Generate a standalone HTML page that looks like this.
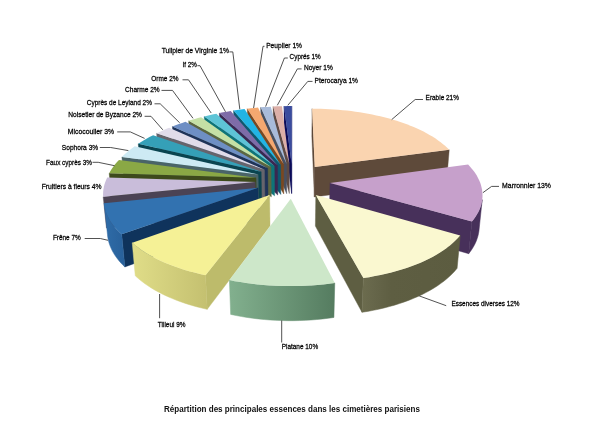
<!DOCTYPE html>
<html><head><meta charset="utf-8"><title>R&#233;partition des principales essences</title>
<style>
html,body{margin:0;padding:0;background:#fff}
body{width:615px;height:432px;overflow:hidden}
svg{display:block}
text{font-family:"Liberation Sans","DejaVu Sans",sans-serif;font-size:7.8px;fill:#000;stroke:#000;stroke-width:0.26px}
.title{font-weight:bold;font-size:8.6px;fill:#111;stroke:none}
</style></head><body>
<svg width="615" height="432" viewBox="0 0 615 432">
<rect width="615" height="432" fill="#fff"/>
<g id="pie">
<defs><linearGradient id="g1_15" gradientUnits="userSpaceOnUse" x1="468.7" y1="0" x2="482.2" y2="0"><stop offset="0" stop-color="#47305A"/><stop offset="1" stop-color="#47305A"/></linearGradient>
<linearGradient id="g2_0" gradientUnits="userSpaceOnUse" x1="362.0" y1="0" x2="460.2" y2="0"><stop offset="0" stop-color="#6C6C4E"/><stop offset="0.12" stop-color="#66664A"/><stop offset="0.3" stop-color="#5E5E42"/><stop offset="1" stop-color="#5C5C40"/></linearGradient>
<linearGradient id="g3_0" gradientUnits="userSpaceOnUse" x1="229.4" y1="0" x2="334.8" y2="0"><stop offset="0" stop-color="#82B08E"/><stop offset="1" stop-color="#557C60"/></linearGradient>
<linearGradient id="g4_0" gradientUnits="userSpaceOnUse" x1="132.2" y1="0" x2="207.2" y2="0"><stop offset="0" stop-color="#E0DD88"/><stop offset="1" stop-color="#C4C070"/></linearGradient>
<linearGradient id="g5_0" gradientUnits="userSpaceOnUse" x1="104.2" y1="0" x2="124.8" y2="0"><stop offset="0" stop-color="#2F6CA8"/><stop offset="1" stop-color="#28609A"/></linearGradient></defs>
<polygon points="291.61,163.72 284.02,106.17 284.14,133.33 291.63,193.50" fill="#0A0A58" stroke="#0A0A58" stroke-width="0.4"/>
<polygon points="291.61,163.72 291.74,106.08 291.75,133.24 291.63,193.50" fill="#0A0A58" stroke="#0A0A58" stroke-width="0.4"/>
<polygon points="291.61,163.72 284.02,106.17 287.88,106.10 291.74,106.08" fill="#3A4C9E"/>
<polygon points="289.27,163.79 273.12,106.56 273.41,133.74 289.32,193.57" fill="#5E4A44" stroke="#5E4A44" stroke-width="0.4"/>
<polygon points="289.27,163.79 273.12,106.56 277.53,106.36 281.95,106.22" fill="#DCAFA8"/>
<polygon points="286.59,163.95 260.66,107.37 261.12,134.59 286.69,193.74" fill="#485060" stroke="#485060" stroke-width="0.4"/>
<polygon points="286.59,163.95 260.66,107.37 264.01,107.11 267.38,106.88 270.76,106.68" fill="#A8BBDA"/>
<polygon points="283.66,164.23 247.30,108.69 247.96,135.98 283.80,194.03" fill="#7A4820" stroke="#7A4820" stroke-width="0.4"/>
<polygon points="283.66,164.23 247.30,108.69 250.87,108.29 254.45,107.92 258.05,107.59" fill="#F4A870"/>
<polygon points="280.61,164.65 233.52,110.57 234.38,137.94 280.81,194.47" fill="#0E5870" stroke="#0E5870" stroke-width="0.4"/>
<polygon points="280.61,164.65 233.52,110.57 237.18,110.01 240.87,109.50 244.57,109.02" fill="#22B4E4"/>
<polygon points="277.50,165.22 219.30,113.09 220.37,140.58 277.75,195.06" fill="#3A2850" stroke="#3A2850" stroke-width="0.4"/>
<polygon points="277.50,165.22 219.30,113.09 223.07,112.35 226.87,111.66 230.71,111.02" fill="#7E6CA8"/>
<polygon points="274.30,165.97 204.23,116.46 205.53,144.11 274.60,195.85" fill="#0E7478" stroke="#0E7478" stroke-width="0.4"/>
<polygon points="274.30,165.97 204.23,116.46 208.22,115.48 212.26,114.56 216.35,113.69" fill="#5EC4D6"/>
<polygon points="271.01,166.95 188.66,120.82 190.21,148.67 271.36,196.87" fill="#5C6640" stroke="#5C6640" stroke-width="0.4"/>
<polygon points="271.01,166.95 188.66,120.82 191.72,119.87 194.83,118.96 197.97,118.09 201.15,117.25" fill="#C5E0A5"/>
<polygon points="314.72,167.05 312.12,108.67 311.84,135.96 314.36,196.98" fill="#5E4A3A" stroke="#5E4A3A" stroke-width="0.4"/>
<polygon points="314.72,167.05 449.23,149.81 446.76,178.97 314.36,196.98" fill="#5E4A3A" stroke="#5E4A3A" stroke-width="0.4"/>
<polygon points="314.72,167.05 312.12,108.67 316.50,108.70 320.89,108.79 325.27,108.94 329.64,109.15 334.00,109.42 338.35,109.75 342.68,110.14 346.99,110.59 351.28,111.10 355.54,111.67 359.76,112.29 363.96,112.98 368.11,113.72 372.23,114.52 376.30,115.38 380.32,116.30 384.29,117.27 388.21,118.30 392.07,119.39 395.86,120.53 399.59,121.73 403.25,122.98 406.84,124.29 410.35,125.65 413.77,127.06 417.12,128.53 420.37,130.04 423.53,131.61 426.60,133.22 429.57,134.89 432.43,136.60 435.18,138.36 437.83,140.16 440.35,142.01 442.76,143.90 445.05,145.83 447.20,147.80 449.23,149.81" fill="#FAD4B0"/>
<polygon points="267.68,168.20 172.38,126.50 174.19,154.61 268.09,198.17" fill="#1E3358" stroke="#1E3358" stroke-width="0.4"/>
<polygon points="267.68,168.20 172.38,126.50 175.56,125.27 178.80,124.08 182.10,122.94 185.46,121.84" fill="#6E8FC4"/>
<polygon points="264.46,169.72 156.62,133.37 158.69,161.80 264.92,199.76" fill="#66646C" stroke="#66646C" stroke-width="0.4"/>
<polygon points="264.46,169.72 156.62,133.37 159.64,131.90 162.74,130.48 165.92,129.11 169.17,127.78" fill="#E0DCEA"/>
<polygon points="261.16,171.78 138.27,143.82 140.68,172.73 261.68,201.91" fill="#0A4450" stroke="#0A4450" stroke-width="0.4"/>
<polygon points="261.16,171.78 138.27,143.82 141.03,141.99 143.91,140.20 146.88,138.46 149.97,136.77 153.15,135.14" fill="#35A0B8"/>
<polygon points="258.12,174.50 121.89,156.96 124.62,186.44 258.69,204.74" fill="#4A6468" stroke="#4A6468" stroke-width="0.4"/>
<polygon points="258.12,174.50 121.89,156.96 123.77,155.09 125.77,153.25 127.87,151.45 130.07,149.68 132.37,147.95 134.77,146.25" fill="#CDEAF4"/>
<polygon points="256.00,177.73 109.20,173.34 112.23,203.54 256.62,208.11" fill="#3D4A1C" stroke="#3D4A1C" stroke-width="0.4"/>
<polygon points="256.00,177.73 109.20,173.34 110.45,171.04 111.86,168.76 113.43,166.51 115.14,164.29 117.00,162.11 118.99,159.97" fill="#8AA845"/>
<polygon points="255.28,181.89 103.17,196.86 106.45,228.04 255.91,212.44" fill="#4B4354" stroke="#4B4354" stroke-width="0.4"/>
<polygon points="255.28,181.89 103.17,196.86 103.07,194.38 103.15,191.91 103.41,189.45 103.85,187.01 104.45,184.58 105.23,182.17 106.18,179.79 107.28,177.43" fill="#C9BDDA"/>
<polygon points="329.99,182.91 471.90,221.54 468.65,253.72 329.36,213.51" fill="#47305A" stroke="#47305A" stroke-width="0.4"/>
<polygon points="482.23,199.62 481.83,202.08 481.25,204.55 480.47,207.01 479.52,209.47 478.37,211.91 477.04,214.35 475.51,216.77 473.80,219.17 471.90,221.54 468.65,253.72 470.54,251.25 472.23,248.75 473.74,246.24 475.07,243.71 476.21,241.16 477.16,238.60 477.94,236.04 478.53,233.48 478.94,230.91" fill="url(#g1_15)" stroke="url(#g1_15)" stroke-width="0.5" stroke-linejoin="round"/>
<polygon points="329.99,182.91 468.11,164.55 470.12,166.70 471.99,168.88 473.71,171.09 475.30,173.34 476.74,175.62 478.02,177.92 479.15,180.26 480.13,182.62 480.94,185.00 481.58,187.40 482.06,189.82 482.37,192.25 482.50,194.70 482.46,197.15 482.23,199.62 481.83,202.08 481.25,204.55 480.47,207.01 479.52,209.47 478.37,211.91 477.04,214.35 475.51,216.77 473.80,219.17 471.90,221.54" fill="#C6A0CB"/>
<polygon points="258.06,187.87 121.68,234.28 124.84,266.95 258.65,218.68" fill="#0F335C" stroke="#0F335C" stroke-width="0.4"/>
<polygon points="121.68,234.28 119.25,232.01 117.00,229.71 114.94,227.38 113.05,225.02 111.35,222.64 109.83,220.25 108.49,217.83 107.33,215.41 106.35,212.97 105.55,210.53 104.92,208.09 104.47,205.65 104.19,203.20 107.49,234.65 107.78,237.19 108.24,239.73 108.87,242.27 109.67,244.81 110.65,247.34 111.80,249.86 113.13,252.37 114.64,254.86 116.33,257.34 118.19,259.78 120.23,262.20 122.45,264.60 124.84,266.95" fill="url(#g5_0)" stroke="url(#g5_0)" stroke-width="0.5" stroke-linejoin="round"/>
<polygon points="258.06,187.87 121.68,234.28 119.25,232.01 117.00,229.71 114.94,227.38 113.05,225.02 111.35,222.64 109.83,220.25 108.49,217.83 107.33,215.41 106.35,212.97 105.55,210.53 104.92,208.09 104.47,205.65 104.19,203.20" fill="#3272B0"/>
<polygon points="269.63,195.02 205.51,275.13 207.24,309.32 270.03,226.12" fill="#BDBB6B" stroke="#BDBB6B" stroke-width="0.4"/>
<polygon points="205.51,275.13 199.97,273.91 194.54,272.59 189.24,271.17 184.07,269.66 179.05,268.05 174.18,266.35 169.47,264.56 164.93,262.69 160.55,260.74 156.35,258.71 152.33,256.62 148.50,254.45 144.86,252.23 141.41,249.94 138.15,247.60 135.10,245.21 132.25,242.78 135.26,275.78 138.07,278.30 141.08,280.78 144.28,283.21 147.68,285.58 151.26,287.89 155.03,290.13 158.98,292.31 163.11,294.41 167.41,296.43 171.87,298.37 176.50,300.22 181.28,301.98 186.21,303.65 191.28,305.22 196.48,306.69 201.80,308.06 207.24,309.32" fill="url(#g4_0)" stroke="url(#g4_0)" stroke-width="0.5" stroke-linejoin="round"/>
<polygon points="269.63,195.02 205.51,275.13 199.97,273.91 194.54,272.59 189.24,271.17 184.07,269.66 179.05,268.05 174.18,266.35 169.47,264.56 164.93,262.69 160.55,260.74 156.35,258.71 152.33,256.62 148.50,254.45 144.86,252.23 141.41,249.94 138.15,247.60 135.10,245.21 132.25,242.78" fill="#F5F196"/>
<polygon points="315.78,195.02 363.38,278.02 361.97,312.31 315.38,226.12" fill="#5E5E42" stroke="#5E5E42" stroke-width="0.4"/>
<polygon points="460.21,235.58 457.97,238.10 455.53,240.58 452.89,243.02 450.05,245.42 447.02,247.78 443.79,250.09 440.37,252.35 436.76,254.54 432.96,256.68 428.98,258.75 424.83,260.75 420.50,262.68 416.01,264.53 411.35,266.30 406.54,267.99 401.58,269.58 396.49,271.09 391.25,272.50 385.89,273.81 380.42,275.02 374.84,276.12 369.15,277.13 363.38,278.02 361.97,312.31 367.63,311.39 373.20,310.35 378.68,309.21 384.05,307.95 389.31,306.59 394.44,305.13 399.44,303.58 404.31,301.92 409.03,300.18 413.60,298.34 418.02,296.42 422.27,294.43 426.35,292.35 430.26,290.20 434.00,287.99 437.55,285.71 440.92,283.37 444.10,280.97 447.09,278.52 449.88,276.03 452.49,273.49 454.89,270.92 457.10,268.31" fill="url(#g2_0)" stroke="url(#g2_0)" stroke-width="0.5" stroke-linejoin="round"/>
<polygon points="315.78,195.02 460.21,235.58 457.97,238.10 455.53,240.58 452.89,243.02 450.05,245.42 447.02,247.78 443.79,250.09 440.37,252.35 436.76,254.54 432.96,256.68 428.98,258.75 424.83,260.75 420.50,262.68 416.01,264.53 411.35,266.30 406.54,267.99 401.58,269.58 396.49,271.09 391.25,272.50 385.89,273.81 380.42,275.02 374.84,276.12 369.15,277.13 363.38,278.02" fill="#FAF8D0"/>
<polygon points="334.76,282.98 329.01,283.76 323.18,284.42 317.31,284.98 311.39,285.42 305.44,285.76 299.46,285.98 293.47,286.10 287.47,286.10 281.48,285.99 275.51,285.76 269.56,285.43 263.64,284.98 257.77,284.42 251.95,283.76 246.20,282.99 240.52,282.11 234.92,281.13 229.41,280.04 230.67,314.41 236.08,315.53 241.56,316.55 247.13,317.46 252.77,318.26 258.47,318.95 264.23,319.52 270.02,319.98 275.85,320.33 281.71,320.56 287.58,320.68 293.45,320.68 299.32,320.56 305.18,320.33 311.01,319.98 316.81,319.52 322.57,318.94 328.28,318.25 333.92,317.45" fill="url(#g3_0)" stroke="url(#g3_0)" stroke-width="0.5" stroke-linejoin="round"/>
<polygon points="290.78,198.71 334.76,282.98 329.01,283.76 323.18,284.42 317.31,284.98 311.39,285.42 305.44,285.76 299.46,285.98 293.47,286.10 287.47,286.10 281.48,285.99 275.51,285.76 269.56,285.43 263.64,284.98 257.77,284.42 251.95,283.76 246.20,282.99 240.52,282.11 234.92,281.13 229.41,280.04" fill="#CDE7C9"/>
</g>
<g id="labels">
<polyline points="423.0,99.5 415.2,99.5 391.7,119.6" fill="none" stroke="#333" stroke-width="0.85"/>
<text x="425.6" y="100.4" textLength="33.3" lengthAdjust="spacingAndGlyphs">Erable 21%</text>
<polyline points="499.0,186.4 491.6,186.4 482.9,192.7" fill="none" stroke="#333" stroke-width="0.85"/>
<text x="502.1" y="188.3" textLength="48.9" lengthAdjust="spacingAndGlyphs">Marronnier 13%</text>
<polyline points="446.2,305.7 419.2,295.9" fill="none" stroke="#333" stroke-width="0.85"/>
<text x="451.4" y="306.1" textLength="68.2" lengthAdjust="spacingAndGlyphs">Essences diverses 12%</text>
<polyline points="281.7,342.5 281.7,320.4" fill="none" stroke="#333" stroke-width="0.85"/>
<text x="281.7" y="348.6" textLength="36.4" lengthAdjust="spacingAndGlyphs">Platane 10%</text>
<polyline points="159.6,318.2 159.6,294.0" fill="none" stroke="#333" stroke-width="0.85"/>
<text x="157.8" y="326.9" textLength="27.8" lengthAdjust="spacingAndGlyphs">Tilleul 9%</text>
<polyline points="84.7,238.5 100.3,238.5 108.0,240.3" fill="none" stroke="#333" stroke-width="0.85"/>
<text x="52.9" y="240.4" textLength="27.9" lengthAdjust="spacingAndGlyphs">Frêne 7%</text>
<text x="41.7" y="189.1" textLength="59.9" lengthAdjust="spacingAndGlyphs">Fruitiers à fleurs 4%</text>
<polyline points="92.5,162.3 98.2,162.3 114.6,165.7" fill="none" stroke="#333" stroke-width="0.85"/>
<text x="46.1" y="164.5" textLength="45.9" lengthAdjust="spacingAndGlyphs">Faux cyprès 3%</text>
<polyline points="99.8,147.5 110.7,147.5 128.4,150.6" fill="none" stroke="#333" stroke-width="0.85"/>
<text x="61.8" y="149.7" textLength="36.4" lengthAdjust="spacingAndGlyphs">Sophora 3%</text>
<polyline points="117.2,131.9 130.3,131.9 144.6,138.4" fill="none" stroke="#333" stroke-width="0.85"/>
<text x="67.8" y="133.6" textLength="46.3" lengthAdjust="spacingAndGlyphs">Micocoulier 3%</text>
<polyline points="144.6,116.3 151.0,116.3 162.8,129.8" fill="none" stroke="#333" stroke-width="0.85"/>
<text x="68.3" y="117.2" textLength="73.7" lengthAdjust="spacingAndGlyphs">Noisetier de Byzance 2%</text>
<polyline points="154.5,103.8 160.2,103.8 179.7,122.8" fill="none" stroke="#333" stroke-width="0.85"/>
<text x="86.8" y="104.9" textLength="65.1" lengthAdjust="spacingAndGlyphs">Cyprès de Leyland 2%</text>
<polyline points="161.5,90.4 172.5,90.4 193.0,118.3" fill="none" stroke="#333" stroke-width="0.85"/>
<text x="125.0" y="92.4" textLength="34.7" lengthAdjust="spacingAndGlyphs">Charme 2%</text>
<polyline points="182.5,79.8 188.5,79.8 211.2,113.0" fill="none" stroke="#333" stroke-width="0.85"/>
<text x="151.3" y="80.7" textLength="27.3" lengthAdjust="spacingAndGlyphs">Orme 2%</text>
<polyline points="197.4,65.7 200.0,65.7 225.5,111.8" fill="none" stroke="#333" stroke-width="0.85"/>
<text x="182.6" y="67.2" textLength="14.3" lengthAdjust="spacingAndGlyphs">If 2%</text>
<polyline points="229.4,51.9 232.8,51.9 239.8,109.2" fill="none" stroke="#333" stroke-width="0.85"/>
<text x="161.7" y="53.3" textLength="67.2" lengthAdjust="spacingAndGlyphs">Tulipier de Virginie 1%</text>
<polyline points="264.5,46.3 263.0,46.3 253.6,108.0" fill="none" stroke="#333" stroke-width="0.85"/>
<text x="266.2" y="47.6" textLength="35.8" lengthAdjust="spacingAndGlyphs">Peuplier 1%</text>
<polyline points="287.8,58.0 284.4,58.0 265.6,106.6" fill="none" stroke="#333" stroke-width="0.85"/>
<text x="289.6" y="58.8" textLength="31.2" lengthAdjust="spacingAndGlyphs">Cyprés 1%</text>
<polyline points="301.6,68.9 297.4,68.9 277.3,105.3" fill="none" stroke="#333" stroke-width="0.85"/>
<text x="303.9" y="70.2" textLength="28.9" lengthAdjust="spacingAndGlyphs">Noyer 1%</text>
<polyline points="312.5,81.4 307.8,81.4 287.8,105.3" fill="none" stroke="#333" stroke-width="0.85"/>
<text x="314.6" y="82.8" textLength="43.4" lengthAdjust="spacingAndGlyphs">Pterocarya 1%</text>
</g>
<text class="title" x="164" y="411.8" textLength="255.9" lengthAdjust="spacingAndGlyphs">Répartition des principales essences dans les cimetières parisiens</text>
</svg>
</body></html>
